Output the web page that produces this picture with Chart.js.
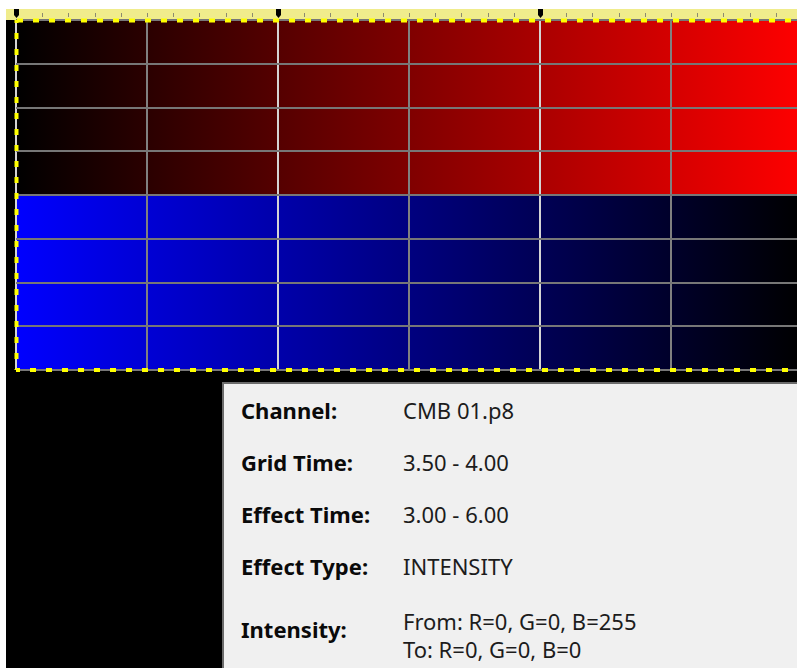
<!DOCTYPE html>
<html>
<head>
<meta charset="utf-8">
<script src="https://cdn.jsdelivr.net/npm/chart.js@4/dist/chart.umd.min.js"></script>
<style>
  html, body { margin: 0; padding: 0; overflow: hidden; background: #fff; }
  body { width: 797px; height: 668px; position: relative; font-family: "Noto Sans", sans-serif; }
  #grid { position: absolute; left: 0; top: 0; }
  .tip { position: absolute; left: 222px; top: 382px; width: 620px; height: 320px; background: #f0f0f0; border: 2px solid #6b6b6b; box-sizing: border-box; }
  .tip div { position: absolute; font-size: 22px; line-height: 22px; white-space: nowrap; color: #1c1c1c; }
  .tip .lbl { font-weight: bold; color: #0a0a0a; }
</style>
</head>
<body>
<canvas id="grid" width="802" height="668"></canvas>
<div class="tip" id="tip"></div>
<script>
// channels (rows) and their intensity effect
const channels = ['CMB 01.p1', 'CMB 01.p2', 'CMB 01.p3', 'CMB 01.p4', 'CMB 01.p5', 'CMB 01.p6', 'CMB 01.p7', 'CMB 01.p8']
const effectStart = [3, 3, 3, 3, 3, 3, 3, 3]
const effectEnd = [6, 6, 6, 6, 6, 6, 6, 6]
const fromColors = [[0, 0, 0], [0, 0, 0], [0, 0, 0], [0, 0, 0], [0, 0, 255], [0, 0, 255], [0, 0, 255], [0, 0, 255]]
const toColors = [[255, 0, 0], [255, 0, 0], [255, 0, 0], [255, 0, 0], [0, 0, 0], [0, 0, 0], [0, 0, 0], [0, 0, 0]]

// time grid (seconds), ruler step
const gridTimes = [3.0, 3.5, 4.0, 4.5, 5.0, 5.5, 6.0]
const rulerStep = 0.1

// hovered cell shown in the info box
const hoverRow = 7
const hoverCol = 1
const effectType = 'INTENSITY'

const rgb = c => `rgb(${c[0]},${c[1]},${c[2]})`

function rowGradient(ctx) {
    const chart = ctx.chart
    if (!chart.chartArea || ctx.dataIndex === undefined) return 'black'
    const i = ctx.dataIndex
    const x = chart.scales.x
    const g = chart.ctx.createLinearGradient(x.getPixelForValue(effectStart[i]), 0, x.getPixelForValue(effectEnd[i]), 0)
    g.addColorStop(0, rgb(fromColors[i]))
    g.addColorStop(1, rgb(toColors[i]))
    return g
}

const backdrop = {
    id: 'backdrop',
    beforeDraw(chart) {
        const c = chart.ctx
        const top = chart.chartArea.top
        c.save()
        c.fillStyle = '#fff'
        c.fillRect(0, 0, chart.width, chart.height)
        c.fillStyle = '#000'
        c.fillRect(6, top, chart.width, chart.height)
        c.fillStyle = '#f0ec8c'
        c.fillRect(6, 9, chart.width, top - 9)
        c.restore()
    }
}

const ruler = {
    id: 'ruler',
    afterDraw(chart) {
        const c = chart.ctx
        const x = chart.scales.x
        const a = chart.chartArea
        c.save()
        // ruler ticks and second markers
        const n = Math.round((x.max - x.min) / rulerStep)
        for (let k = 0; k <= n; k++) {
            const v = x.min + k * rulerStep
            const px = Math.round(x.getPixelForValue(v))
            if (k % 10 === 0) {
                c.fillStyle = '#000'
                c.fillRect(px - 2, 9, 5, 6)
                c.beginPath()
                c.moveTo(px - 2, 15)
                c.lineTo(px + 3, 15)
                c.lineTo(px + 0.5, 18)
                c.closePath()
                c.fill()
            } else {
                c.fillStyle = '#8c8a70'
                c.fillRect(px, 13, 1, 4)
            }
        }
        // selection outline
        c.strokeStyle = '#ffff00'
        c.lineWidth = 4
        c.setLineDash([6, 10])
        c.lineDashOffset = -1
        c.beginPath()
        c.moveTo(a.left, a.top + 0.5)
        c.lineTo(a.right, a.top + 0.5)
        c.stroke()
        c.lineDashOffset = -14
        c.beginPath()
        c.moveTo(a.left, a.bottom)
        c.lineTo(a.right, a.bottom)
        c.stroke()
        c.lineDashOffset = 3
        c.beginPath()
        c.moveTo(a.left + 0.5, a.top)
        c.lineTo(a.left + 0.5, a.bottom)
        c.stroke()
        c.restore()
    }
}

new Chart(document.getElementById('grid'), {
    type: 'bar',
    data: {
        labels: channels,
        datasets: [{
            data: channels.map((ch, i) => [effectStart[i], effectEnd[i]]),
            backgroundColor: rowGradient,
            borderWidth: 0,
            barPercentage: 1,
            categoryPercentage: 1
        }]
    },
    options: {
        indexAxis: 'y',
        responsive: false,
        animation: false,
        events: [],
        layout: { padding: { left: 16, top: 20, right: 0, bottom: 298 } },
        plugins: { legend: { display: false }, tooltip: { enabled: false } },
        scales: {
            x: {
                type: 'linear',
                position: 'top',
                min: gridTimes[0],
                max: gridTimes[gridTimes.length - 1],
                afterBuildTicks: s => { s.ticks = gridTimes.map(v => ({ value: v })) },
                afterFit: s => { s.height = 0 },
                ticks: { display: false },
                border: { display: false },
                grid: {
                    z: 1,
                    drawTicks: false,
                    lineWidth: 2,
                    color: c => Number.isInteger(c.tick.value) ? '#d4d4d4' : '#808080'
                }
            },
            y: {
                afterFit: s => { s.width = 0 },
                ticks: { display: false },
                border: { display: false },
                grid: { z: 1, drawTicks: false, lineWidth: 2, color: '#777777' }
            }
        }
    },
    plugins: [backdrop, ruler]
})

// info box for the hovered cell
const t0 = gridTimes[hoverCol]
const t1 = gridTimes[hoverCol + 1]
const fromC = fromColors[hoverRow]
const toC = toColors[hoverRow]
const tipRows = [
    ['Channel:', [channels[hoverRow]]],
    ['Grid Time:', [`${t0.toFixed(2)} - ${t1.toFixed(2)}`]],
    ['Effect Time:', [`${effectStart[hoverRow].toFixed(2)} - ${effectEnd[hoverRow].toFixed(2)}`]],
    ['Effect Type:', [effectType]],
    ['Intensity:', [`From: R=${fromC[0]}, G=${fromC[1]}, B=${fromC[2]}`, `To: R=${toC[0]}, G=${toC[1]}, B=${toC[2]}`]]
]

// baselines are measured from the box's inner top edge
const tip = document.getElementById('tip')
const ascent = 19.5
function addText(text, cls, left, baseline) {
    const d = document.createElement('div')
    if (cls) d.className = cls
    d.textContent = text
    d.style.left = left + 'px'
    d.style.top = (baseline - ascent) + 'px'
    tip.appendChild(d)
}
tipRows.forEach((row, r) => {
    if (row[1].length === 1) {
        const base = 34 + r * 52
        addText(row[0], 'lbl', 17, base)
        addText(row[1][0], '', 179, base)
    } else {
        addText(row[0], 'lbl', 17, 253)
        row[1].forEach((text, j) => addText(text, '', 179, 245.5 + j * 27.5))
    }
})
</script>
</body>
</html>
